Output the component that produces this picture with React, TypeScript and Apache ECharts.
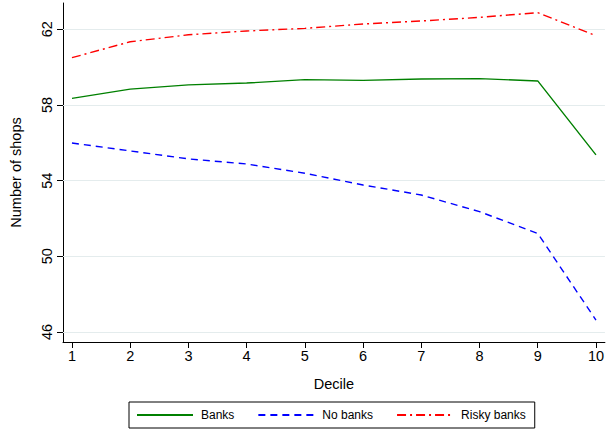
import React, { useEffect, useRef } from "react";
import * as echarts from "echarts";

const deciles = [1, 2, 3, 4, 5, 6, 7, 8, 9, 10];
const banks = [58.35, 58.84, 59.06, 59.16, 59.34, 59.3, 59.37, 59.39, 59.27, 55.36];
const noBanks = [55.99, 55.57, 55.15, 54.88, 54.39, 53.77, 53.24, 52.36, 51.21, 46.63];
const riskyBanks = [60.5, 61.34, 61.71, 61.91, 62.05, 62.28, 62.44, 62.63, 62.88, 61.66];
const yTicks = [46, 50, 54, 58, 62];
const xTicks = [1, 2, 3, 4, 5, 6, 7, 8, 9, 10];

const FONT = "'Liberation Sans', Arial, sans-serif";

export default function App() {
  const ref = useRef<HTMLDivElement>(null);
  useEffect(() => {
    document.body.style.margin = "0";
    if (!ref.current) return;
    const chart = echarts.init(ref.current, null, { renderer: "svg" });
    const pairs = (arr: number[]) => deciles.map((d, i) => [d, arr[i]]);
    chart.setOption({
      animation: false,
      backgroundColor: "#fff",
      textStyle: { fontFamily: FONT },
      grid: { left: 62, right: 1, top: 3, bottom: 92, containLabel: false },
      xAxis: {
        type: "value",
        min: 0.846,
        max: 10.154,
        name: "Decile",
        nameLocation: "middle",
        nameGap: 34,
        nameTextStyle: { fontSize: 14.5, color: "#000", fontFamily: FONT },
        axisLine: { show: true, lineStyle: { color: "#000", width: 1 } },
        axisTick: { show: true, length: 6, customValues: xTicks, lineStyle: { color: "#000" } },
        axisLabel: { customValues: xTicks, fontSize: 14.5, color: "#000", margin: 6, fontFamily: FONT },
        splitLine: { show: false },
      },
      yAxis: {
        type: "value",
        min: 45.47,
        max: 63.39,
        name: "Number of shops",
        nameLocation: "middle",
        nameGap: 40,
        nameTextStyle: { fontSize: 14.5, color: "#000", fontFamily: FONT },
        axisLine: { show: true, lineStyle: { color: "#000", width: 1 } },
        axisTick: { show: true, length: 6, customValues: yTicks, lineStyle: { color: "#000" } },
        axisLabel: { customValues: yTicks, fontSize: 14.5, color: "#000", margin: 9, rotate: 90, fontFamily: FONT },
        splitLine: { show: false },
      },
      legend: {
        left: 129,
        top: 402,
        orient: "horizontal",
        padding: [7, 9, 7, 7],
        itemWidth: 56,
        itemHeight: 14,
        itemGap: 23,
        borderColor: "#000",
        borderWidth: 1,
        itemStyle: { opacity: 0 },
        textStyle: { fontSize: 12, color: "#000", fontFamily: FONT, padding: [0, 0, 0, 3] },
        data: ["Banks", "No banks", "Risky banks"],
      },
      series: [
        {
          name: "Banks",
          type: "line",
          data: pairs(banks),
          symbol: "none",
          showSymbol: false,
          z: 3,
          lineStyle: { color: "#008000", width: 1.4, type: "solid" },
          itemStyle: { color: "#008000" },
          markLine: {
            silent: true,
            z: 1,
            symbol: ["none", "none"],
            label: { show: false },
            lineStyle: { color: "#e4eced", width: 1, type: "solid" },
            emphasis: { disabled: true },
            data: yTicks.map((v) => ({ yAxis: v })),
          },
        },
        {
          name: "No banks",
          type: "line",
          data: pairs(noBanks),
          symbol: "none",
          showSymbol: false,
          z: 3,
          lineStyle: { color: "#0000ff", width: 1.4, type: [7, 5] },
          itemStyle: { color: "#0000ff" },
        },
        {
          name: "Risky banks",
          type: "line",
          data: pairs(riskyBanks),
          symbol: "none",
          showSymbol: false,
          z: 3,
          lineStyle: { color: "#ff0000", width: 1.4, type: [9, 4, 2, 4] },
          itemStyle: { color: "#ff0000" },
        },
      ],
    });
    return () => chart.dispose();
  }, []);
  return <div ref={ref} style={{ width: 607, height: 434 }} />;
}
